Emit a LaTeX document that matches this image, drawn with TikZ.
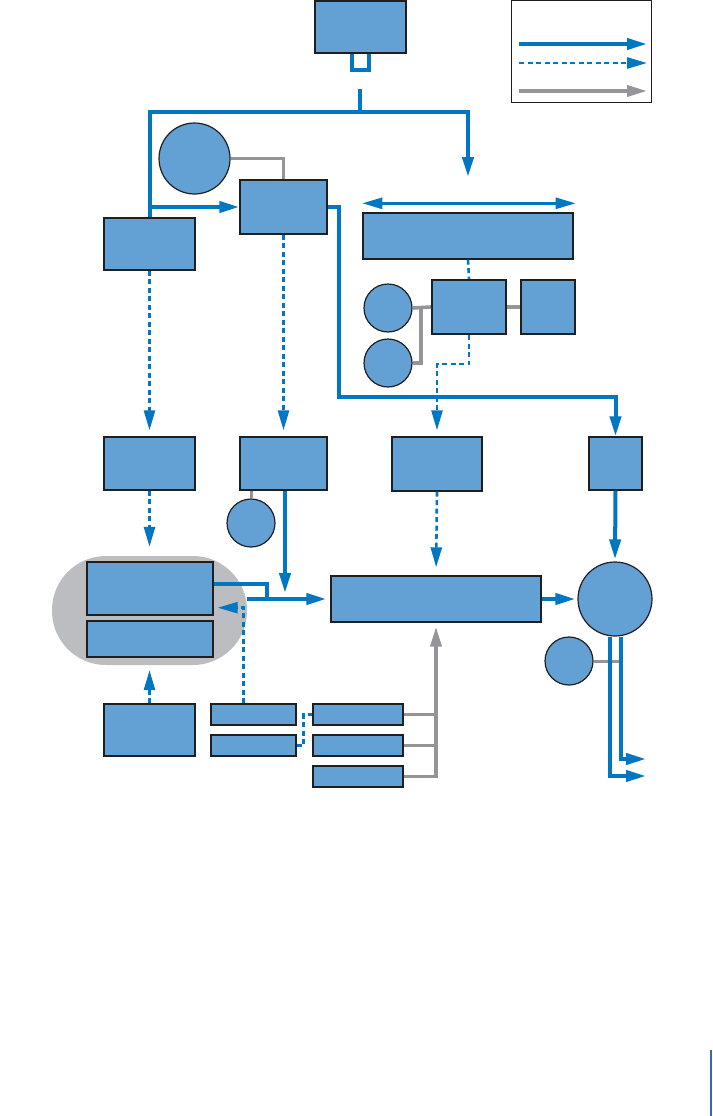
\documentclass[tikz,border=0pt]{standalone}
\usepackage{tikz}
\usetikzlibrary{arrows.meta}
\definecolor{flowblue}{HTML}{0077C0}
\definecolor{boxfill}{HTML}{63A0D4}
\definecolor{linkgray}{HTML}{939598}
\definecolor{groupgray}{HTML}{BCBDC0}
\definecolor{edgeblue}{HTML}{2A6EAF}

\begin{document}
\begin{tikzpicture}[x=1pt,y=-1pt,
  box/.style={draw=black!88,fill=boxfill,line width=1.4pt,inner sep=0pt},
  unit/.style={box,circle,line width=1.2pt},
  flow/.style={draw=flowblue,line width=4pt},
  thinflow/.style={draw=flowblue,line width=2.6pt},
  ctrl/.style={draw=flowblue,line width=2.6pt,dash pattern=on 5pt off 3.5pt},
  link/.style={draw=linkgray,line width=3.6pt},
  tip/.style={-{Triangle[length=20pt,width=11pt]}},
  bothtips/.style={{Triangle[length=20pt,width=11pt]}-{Triangle[length=20pt,width=11pt]}}]
          \useasboundingbox (0,0) rectangle (712,1116);
          \node[fill=groupgray,minimum width=195pt,minimum height=109pt,rounded corners=54pt,inner sep=0pt] (group) at (149.5,610.5) {};
            \node[box,minimum width=91pt,minimum height=52pt] (top) at (360.5,27) {};
            \node[draw=black!88,line width=1pt,minimum width=140pt,minimum height=101pt,inner sep=0pt] (legend) at (581,51.5) {};
            \node[unit,minimum size=71pt] (srcA) at (194.5,158.5) {};
            \node[box,minimum width=87pt,minimum height=54pt] (ctlB) at (283.5,207) {};
            \node[box,minimum width=91pt,minimum height=52pt] (inL) at (149.5,244) {};
            \node[box,minimum width=210pt,minimum height=46pt] (bus) at (468,236) {};
            \node[box,line width=2pt,minimum width=74pt,minimum height=54pt] (hub) at (469,307) {};
            \node[box,line width=2pt,minimum width=54pt,minimum height=54pt] (side) at (548,307) {};
            \node[unit,minimum size=48pt] (srcB) at (388,308) {};
            \node[unit,minimum size=48pt] (srcC) at (388,363) {};
            \node[box,minimum width=91pt,minimum height=53pt] (midL) at (149.5,463.5) {};
            \node[box,minimum width=87pt,minimum height=53pt] (midB) at (283.5,463.5) {};
            \node[box,minimum width=90pt,minimum height=54pt] (midC) at (437,464) {};
            \node[box,minimum width=53pt,minimum height=53pt] (midR) at (615.5,463.5) {};
            \node[unit,minimum size=48pt] (srcD) at (251,523) {};
            \node[box,minimum width=126pt,minimum height=53pt] (grpA) at (150,588.5) {};
            \node[box,minimum width=126pt,minimum height=36pt] (grpB) at (150,639) {};
            \node[box,minimum width=210pt,minimum height=46pt] (main) at (436,599) {};
            \node[unit,minimum size=74pt] (sink) at (615,599) {};
            \node[unit,minimum size=48pt] (srcE) at (569,661) {};
            \node[box,minimum width=91pt,minimum height=52pt] (lowL) at (149.5,730) {};
            \node[box,minimum width=85pt,minimum height=21pt] (padA) at (253.5,714.5) {};
            \node[box,minimum width=85pt,minimum height=21pt] (padB) at (253.5,745.5) {};
            \node[box,minimum width=90pt,minimum height=21pt] (keyA) at (358,714.5) {};
            \node[box,minimum width=90pt,minimum height=21pt] (keyB) at (358,745.5) {};
            \node[box,minimum width=90pt,minimum height=21pt] (keyC) at (358,776.5) {};
             \coordinate (lgA) at (519,44);
             \coordinate (lgB) at (647,44);
             \coordinate (lgC) at (519,63);
             \coordinate (lgD) at (647,63);
             \coordinate (lgE) at (519,91);
             \coordinate (lgF) at (647,91);
             \coordinate (trunk) at (360,89);
             \coordinate (split) at (360,112);
             \coordinate (busin) at (468,177);
             \coordinate (bend) at (339,397);
             \coordinate (knee) at (421,308);
             \coordinate (joint) at (267,599);
             \coordinate (drop) at (285,593);
             \coordinate (outA) at (646,759);
             \coordinate (outB) at (646,776);
             \coordinate (edgeA) at (711,1050);
             \coordinate (edgeB) at (711,1116);
             \draw[flow,tip] (lgA) -- (lgB);
             \draw[ctrl,tip] (lgC) -- (lgD);
             \draw[link,tip] (lgE) -- (lgF);
             \draw[flow] ([xshift=-8.5pt]top.south) -- ++(0,16) -| ([xshift=8.5pt]top.south);
             \draw[flow] (trunk) -- (split);
             \draw[flow,tip] (inL.north) |- (split) -| (busin);
             \draw[flow,tip] (inL.north |- ctlB.west) -- (ctlB.west);
             \draw[link] (srcA.east) -| (ctlB.north);
             \draw[flow,tip] (ctlB.east) -| (bend) -| (midR.north);
             \draw[thinflow,bothtips] ([yshift=9pt]bus.north west) -- ([yshift=9pt,xshift=2pt]bus.north east);
             \draw[ctrl] (bus.south) -- (hub.north);
             \draw[link] (hub.east) -- (side.west);
             \draw[link] (srcB.east) -- (hub.west);
             \draw[link] (srcC.east) -| (knee);
             \draw[ctrl,tip,shorten >=6pt] (hub.south) -- ++(0,29) -| (midC.north);
             \draw[ctrl,tip,shorten >=6pt] (inL.south) -- (midL.north);
             \draw[ctrl,tip,shorten >=6pt] (ctlB.south) -- (midB.north);
             \draw[link,line width=3pt] (srcD.north |- midB.south) -- (srcD.north);
             \draw[flow,tip] (midB.south -| drop) -- (drop);
             \draw[flow] ([yshift=5pt]grpA.east) -| (joint);
             \draw[flow,tip,shorten >=4pt] (group.east |- main.west) -- (main.west);
             \draw[ctrl,tip,shorten >=9pt] (midL.south) -- (group.north);
             \draw[ctrl,tip,shorten >=5pt] (lowL.north) -- (group.south);
             \draw[ctrl,tip] ([xshift=-10pt]padA.north) |- ([xshift=4pt,yshift=8pt]grpA.south east);
             \draw[ctrl] (padB.east) -- ++(7,0) |- (keyA.west);
             \draw[link] (keyA.east) -- (keyA.east -| main.south);
             \draw[link] (keyB.east) -- (keyB.east -| main.south);
             \draw[link,tip,shorten >=4pt] (keyC.east) -| (main.south);
             \draw[ctrl,tip,shorten >=8pt] (midC.south) -- (main.north);
             \draw[flow,tip,shorten >=2pt] (main.east) -- (sink.west);
             \draw[flow,tip,shorten >=2pt] (midR.south) -- (sink.north);
             \draw[link,line width=3pt] (srcE.east) -- ++(27,0);
             \draw[flow,tip] ([xshift=-5pt]sink.south) |- (outB);
             \draw[flow,tip] ([xshift=6pt]sink.south) |- (outA);
             \draw[edgeblue,line width=1.6pt] (edgeA) -- (edgeB);
      \end{tikzpicture}
\end{document}
